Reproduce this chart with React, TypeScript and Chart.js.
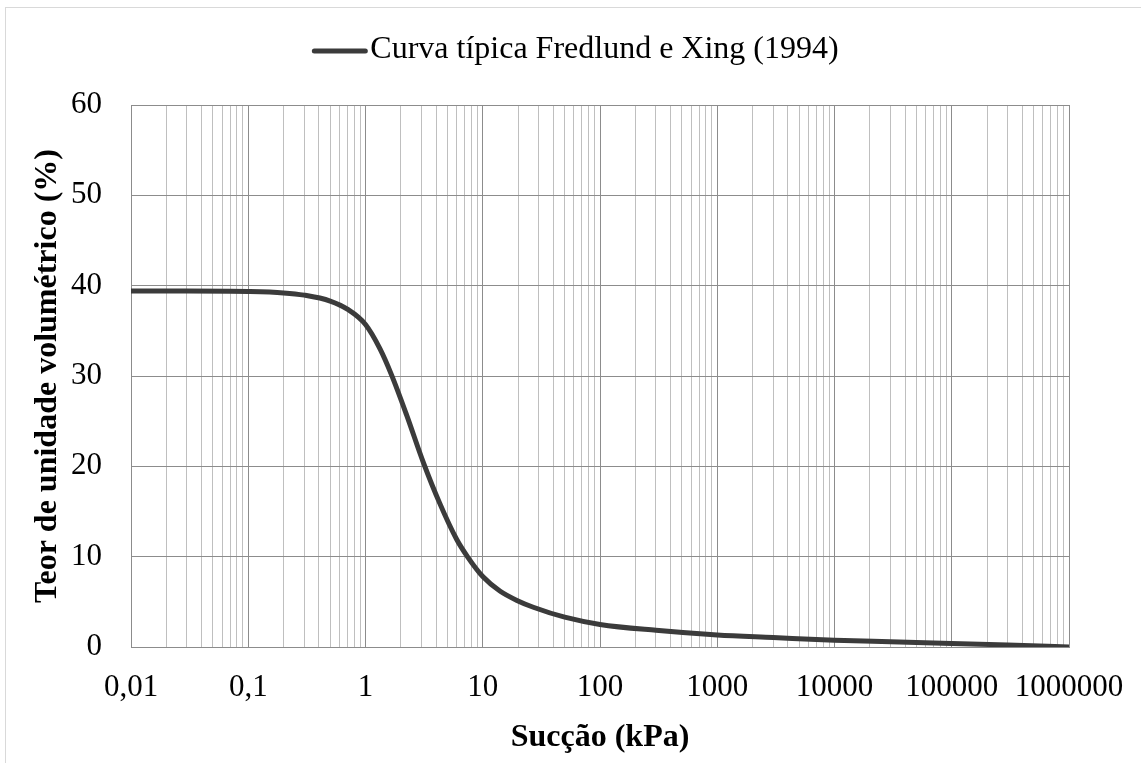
import React, { useEffect, useRef } from "react";
import { Chart, registerables } from "chart.js";

Chart.register(...registerables);

// Suction (kPa) and volumetric water content (%) along the typical curve
const suction = [
  0.01, 0.03, 0.1, 0.2, 0.3, 0.5, 0.7, 1, 1.33, 1.67, 2.24, 3.1, 4.3, 6, 7.5, 10,
  14, 20, 27, 50, 100, 300, 1000, 3000, 10000, 30000, 100000, 300000, 1000000,
];
const waterContent = [
  39.4, 39.4, 39.35, 39.2, 38.95, 38.3, 37.4, 35.7, 33.0, 30.1, 25.7, 20.5, 15.9, 11.9,
  9.9, 7.8, 6.2, 5.1, 4.4, 3.3, 2.5, 1.85, 1.33, 1.05, 0.75, 0.58, 0.4, 0.22, 0.0,
];

const seriesLabel = "Curva típica Fredlund e Xing (1994)";
const xTitle = "Sucção (kPa)";
const yTitle = "Teor de unidade volumétrico (%)";

// Decades shown on the suction axis and their labels
const decadeExponents = [-2, -1, 0, 1, 2, 3, 4, 5, 6];
const decadeLabels = ["0,01", "0,1", "1", "10", "100", "1000", "10000", "100000", "1000000"];

const FONT = "'Liberation Serif', 'Times New Roman', serif";
const LINE_COLOR = "#3b3b3b";
const MAJOR_GRID = "#8c8c8c";
const MINOR_GRID = "#bfbfbf";

const isDecade = (v: number) => {
  const l = Math.log10(v);
  return Math.abs(l - Math.round(l)) < 1e-9;
};

const decadeLabel = (v: number) => {
  const e = Math.round(Math.log10(v));
  const i = decadeExponents.indexOf(e);
  return i >= 0 ? decadeLabels[i] : "";
};

// Light frame around the whole figure
const framePlugin = {
  id: "frame",
  beforeDraw(chart: any) {
    const { ctx } = chart;
    ctx.save();
    ctx.strokeStyle = "#d9d9d9";
    ctx.lineWidth = 1;
    ctx.strokeRect(5.5, 7.5, chart.width + 20, chart.height + 20);
    ctx.restore();
  },
};

// Legend: a short line sample followed by the series name, centred at the top
const legendPlugin = {
  id: "lineLegend",
  afterDraw(chart: any) {
    const { ctx } = chart;
    const ds = chart.data.datasets[0];
    const sample = 55;
    const gap = 3;
    ctx.save();
    ctx.font = `32px ${FONT}`;
    const tw = ctx.measureText(ds.label).width;
    const total = sample + gap + tw;
    const x0 = chart.width / 2 + 5 - total / 2;
    const y = 51;
    ctx.strokeStyle = ds.borderColor;
    ctx.lineWidth = 5;
    ctx.lineCap = "round";
    ctx.beginPath();
    ctx.moveTo(x0 + 2, y);
    ctx.lineTo(x0 + sample - 2, y);
    ctx.stroke();
    ctx.fillStyle = "#000";
    ctx.textBaseline = "middle";
    ctx.textAlign = "left";
    ctx.fillText(ds.label, x0 + sample + gap, y - 1);
    ctx.restore();
  },
};

export default function App() {
  const canvasRef = useRef<HTMLCanvasElement | null>(null);

  useEffect(() => {
    if (!canvasRef.current) return;
    const chart = new Chart(canvasRef.current, {
      type: "line",
      data: {
        datasets: [
          {
            label: seriesLabel,
            data: suction.map((s, i) => ({ x: s, y: waterContent[i] })),
            borderColor: LINE_COLOR,
            backgroundColor: LINE_COLOR,
            borderWidth: 5,
            pointRadius: 0,
            cubicInterpolationMode: "monotone",
            fill: false,
          },
        ],
      },
      options: {
        animation: false,
        responsive: true,
        maintainAspectRatio: false,
        layout: { padding: { top: 105, right: 72, left: 0, bottom: 0 } },
        plugins: {
          legend: { display: false },
          tooltip: { enabled: false },
        },
        scales: {
          x: {
            type: "logarithmic",
            min: 0.01,
            max: 1000000,
            afterBuildTicks(scale: any) {
              const ticks: { value: number }[] = [];
              for (const e of decadeExponents) {
                const base = Math.pow(10, e);
                if (e === 6) {
                  ticks.push({ value: 1000000 });
                  break;
                }
                for (let k = 1; k <= 9; k++) {
                  ticks.push({ value: parseFloat((k * base).toPrecision(6)) });
                }
              }
              scale.ticks = ticks;
            },
            afterFit(scale: any) {
              scale.height = 116;
              scale.paddingLeft = 0;
              scale.paddingRight = 0;
            },
            ticks: {
              autoSkip: false,
              maxRotation: 0,
              padding: 22,
              color: "#000",
              font: { family: FONT, size: 31, lineHeight: 1.2 },
              callback: (v: any) => (isDecade(Number(v)) ? decadeLabel(Number(v)) : ""),
            },
            grid: {
              drawTicks: false,
              lineWidth: 1,
              color: (ctx: any) => (ctx.tick && isDecade(ctx.tick.value) ? MAJOR_GRID : MINOR_GRID),
            },
            border: { display: true, color: MAJOR_GRID, width: 1 },
            title: {
              display: true,
              text: xTitle,
              color: "#000",
              font: { family: FONT, size: 32, weight: "bold", lineHeight: 1.2 },
              padding: { top: 0, bottom: 6 },
            },
          },
          y: {
            type: "linear",
            min: 0,
            max: 60,
            afterFit(scale: any) {
              scale.width = 131;
              scale.paddingTop = 0;
              scale.paddingBottom = 0;
            },
            ticks: {
              stepSize: 10,
              padding: 29,
              color: "#000",
              font: { family: FONT, size: 31, lineHeight: 1.2 },
            },
            grid: {
              drawTicks: false,
              lineWidth: 1,
              color: MAJOR_GRID,
            },
            border: { display: true, color: MAJOR_GRID, width: 1 },
            title: {
              display: true,
              text: yTitle,
              color: "#000",
              font: { family: FONT, size: 32, weight: "bold", lineHeight: 1.2 },
              padding: { top: 29, bottom: 0 },
            },
          },
        },
      },
      plugins: [framePlugin, legendPlugin],
    } as any);
    return () => chart.destroy();
  }, []);

  return (
    <div style={{ position: "absolute", left: 0, top: 0, width: 1141, height: 763, background: "#fff" }}>
      <canvas ref={canvasRef} />
    </div>
  );
}
